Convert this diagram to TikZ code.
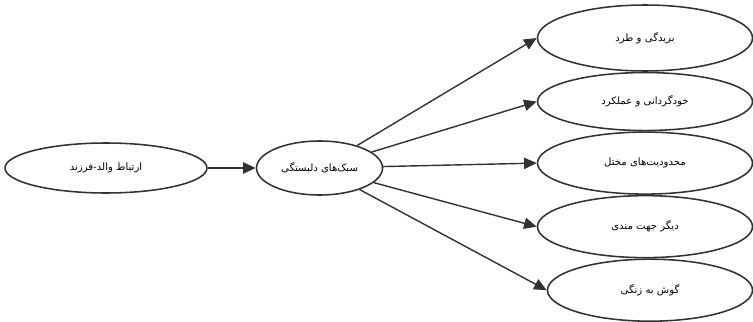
\documentclass[tikz,border=0pt]{standalone}
\usepackage{fontspec}
\usepackage{tikz}
\usetikzlibrary{shapes.geometric, arrows.meta, positioning}
\newfontfamily\arabicfont[Script=Arabic]{DejaVu Sans}
\TeXXeTstate=1
\definecolor{linegray}{RGB}{50,50,50}
\tikzset{
  base/.style={draw=linegray, line width=1.1pt, ellipse, align=center, inner sep=0pt,
               font=\arabicfont\fontsize{7.2}{8}\selectfont},
  source/.style = {base, minimum width=5.05cm, minimum height=1.25cm},
  hub/.style    = {base, minimum width=3.15cm, minimum height=1.35cm},
  schema/.style = {base, minimum width=5.375cm, minimum height=1.55cm},
  arr/.style    = {-{Triangle[length=9pt, width=8pt]}, line width=1pt, color=linegray},
}

\begin{document}
\begin{tikzpicture}
  \useasboundingbox (0,0) rectangle (18.825,-8.025);
  \node[source] (rel) at (2.65,-4.2) {\beginR ارتباط والد-فرزند\endR};
  \node[hub, right=1.2cm of rel] (att) {\beginR سبک‌های دلبستگی\endR};

  % right column of schema domains
  \node[schema, minimum height=1.65cm] (r1) at (16.125,-0.95) {\beginR بریدگی و طرد\endR};
  \node[schema, minimum height=1.45cm, below=0cm of r1] (r2) {\beginR خودگردانی و عملکرد\endR};
  \node[schema, below=0cm of r2] (r3) {\beginR محدودیت‌های مختل\endR};
  \node[schema, below=0cm of r3] (r4) {\beginR دیگر جهت مندی\endR};
  \node[schema, minimum width=5.125cm, below=0cm of r4, xshift=0.125cm] (r5) {\beginR گوش به زنگی\endR};

  \draw[arr] (rel) -- (att);
  \foreach \r in {r1,r2,r3,r4,r5} \draw[arr] (att) -- (\r.west);
\end{tikzpicture}
\end{document}
